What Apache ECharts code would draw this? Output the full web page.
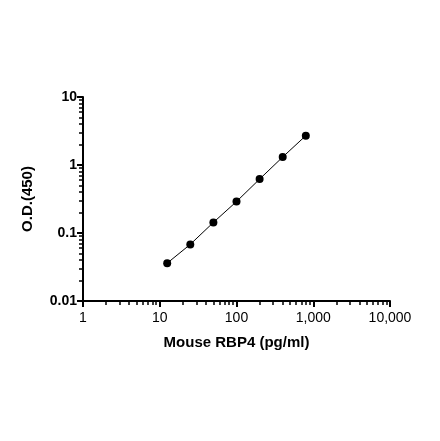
<!DOCTYPE html>
<html>
<head>
<meta charset="utf-8">
<script src="https://cdn.jsdelivr.net/npm/echarts@6/dist/echarts.min.js"></script>
<style>html,body{margin:0;background:#fff}#c{width:440px;height:441px}</style>
</head>
<body>
<div id="c"></div>
<script>
var conc = [12.5, 25, 50, 100, 200, 400, 800];
var od = [0.036, 0.068, 0.143, 0.29, 0.62, 1.31, 2.7];
var xMajor = [1, 10, 100, 1000, 10000];
var yMajor = [0.01, 0.1, 1, 10];

function minors(major) {
  var out = [];
  for (var i = 0; i < major.length - 1; i++) {
    for (var k = 2; k <= 9; k++) out.push(+(major[i] * k).toPrecision(3));
  }
  return out;
}

var font = 'Arial, "Liberation Sans", sans-serif';
var line = {show: true, lineStyle: {color: '#000', width: 2}};

var chart = echarts.init(document.getElementById('c'));
chart.setOption({
  animation: false,
  grid: {left: 83, right: 50, top: 97, bottom: 140},
  xAxis: [{
    type: 'log', min: 1, max: 10000, logBase: 10,
    name: 'Mouse RBP4 (pg/ml)', nameLocation: 'middle', nameGap: 34,
    nameTextStyle: {fontFamily: font, fontWeight: 'bold', fontSize: 15, color: '#000'},
    axisLine: line,
    axisTick: {show: true, length: 6, lineStyle: {color: '#000', width: 2}, customValues: xMajor},
    axisLabel: {fontFamily: font, fontSize: 14, color: '#000', margin: 10, customValues: xMajor},
    splitLine: {show: false}
  }, {
    type: 'log', min: 1, max: 10000, position: 'bottom',
    axisLine: {show: false},
    axisTick: {show: true, length: 4, lineStyle: {color: '#000', width: 1.5}, customValues: minors(xMajor)},
    axisLabel: {show: false}, splitLine: {show: false}
  }],
  yAxis: [{
    type: 'log', min: 0.01, max: 10,
    name: 'O.D.(450)', nameLocation: 'middle', nameGap: 48,
    nameTextStyle: {fontFamily: font, fontWeight: 'bold', fontSize: 15, color: '#000'},
    axisLine: line,
    axisTick: {show: true, length: 6, lineStyle: {color: '#000', width: 2}, customValues: yMajor},
    axisLabel: {fontFamily: font, fontSize: 14, fontWeight: 'bold', color: '#000', margin: 6, customValues: yMajor,
      formatter: function (v) { return String(v); }},
    splitLine: {show: false}
  }, {
    type: 'log', min: 0.01, max: 10, position: 'left',
    axisLine: {show: false},
    axisTick: {show: true, length: 4, lineStyle: {color: '#000', width: 1.5}, customValues: minors(yMajor)},
    axisLabel: {show: false}, splitLine: {show: false}
  }],
  series: [{
    type: 'line',
    data: conc.map(function (x, i) { return [x, od[i]]; }),
    symbol: 'circle', symbolSize: 8,
    itemStyle: {color: '#000'},
    lineStyle: {color: '#000', width: 1}
  }]
});
</script>
</body>
</html>
